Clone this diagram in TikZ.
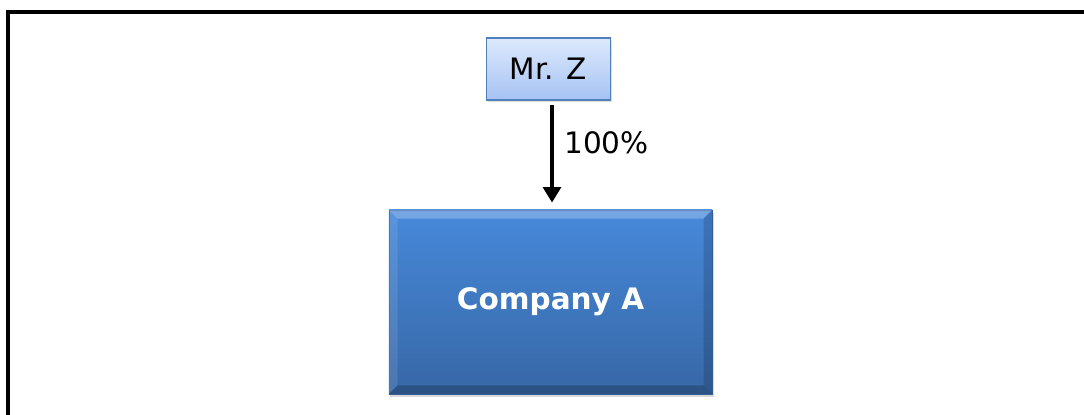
\documentclass[tikz,border=0pt]{standalone}
\usepackage{fontspec}
\setmainfont{DejaVu Sans}
\usepackage{tikz}
\usetikzlibrary{calc}
\usetikzlibrary{shadows}
\usetikzlibrary{arrows.meta}

\definecolor{zborder}{HTML}{4F7FBD}
\definecolor{ztop}{HTML}{DDE9FC}
\definecolor{zbot}{HTML}{A6C3F3}
\definecolor{atop}{HTML}{4789DA}
\definecolor{abot}{HTML}{3767A6}
\definecolor{aborder}{HTML}{3A68A8}

\tikzset{
  owner/.style={draw=zborder, line width=0.8pt, top color=ztop, bottom color=zbot,
    minimum width=3.08cm, minimum height=1.55cm, inner sep=0pt,
    drop shadow={opacity=0.25, shadow xshift=0.4mm, shadow yshift=-0.6mm},
    font=\fontsize{21}{25}\selectfont},
  firm/.style={draw=aborder, line width=0.5pt, top color=atop, bottom color=abot,
    minimum width=8.08cm, minimum height=4.6cm, inner sep=0pt, text=white,
    drop shadow={opacity=0.3, shadow xshift=0.4mm, shadow yshift=-0.8mm},
    font=\fontsize{21}{25}\selectfont\bfseries},
  share/.style={line width=2.85pt, -{Triangle[length=11pt, width=12.5pt]}}
}

\begin{document}
\begin{tikzpicture}[x=0.025cm, y=-0.025cm]
\useasboundingbox (0,0) rectangle (1084,414);
\draw[line width=2.2pt] (8,430) -- (8,12) -- (1100,12);

\node[owner] (mrz) at (548.5,69) {Mr. Z};
\node[firm] (compa) at (550.5,302) {};

% bevel edges
\fill[white, opacity=0.25] (compa.north west) -- (compa.north east)
  -- ($(compa.north east)+(-9,9)$) -- ($(compa.north west)+(9,9)$) -- cycle;
\fill[white, opacity=0.1] (compa.north west) -- ($(compa.north west)+(9,9)$)
  -- ($(compa.south west)+(9,-9)$) -- (compa.south west) -- cycle;
\fill[black, opacity=0.15] (compa.north east) -- ($(compa.north east)+(-9,9)$)
  -- ($(compa.south east)+(-9,-9)$) -- (compa.south east) -- cycle;
\fill[black, opacity=0.2] (compa.south west) -- ($(compa.south west)+(9,-9)$)
  -- ($(compa.south east)+(-9,-9)$) -- (compa.south east) -- cycle;
\node[text=white, font=\fontsize{21}{25}\selectfont\bfseries] (compa_t) at (compa) {Company A};

\draw[share, shorten <=3.5pt, shorten >=5pt] ($(mrz.south)+(3.5,0)$) coordinate (from)
  -- (from |- compa.north) node[pos=0.39, right=4pt, font=\fontsize{21}{25}\selectfont] (pct) {100\%};
\end{tikzpicture}
\end{document}
